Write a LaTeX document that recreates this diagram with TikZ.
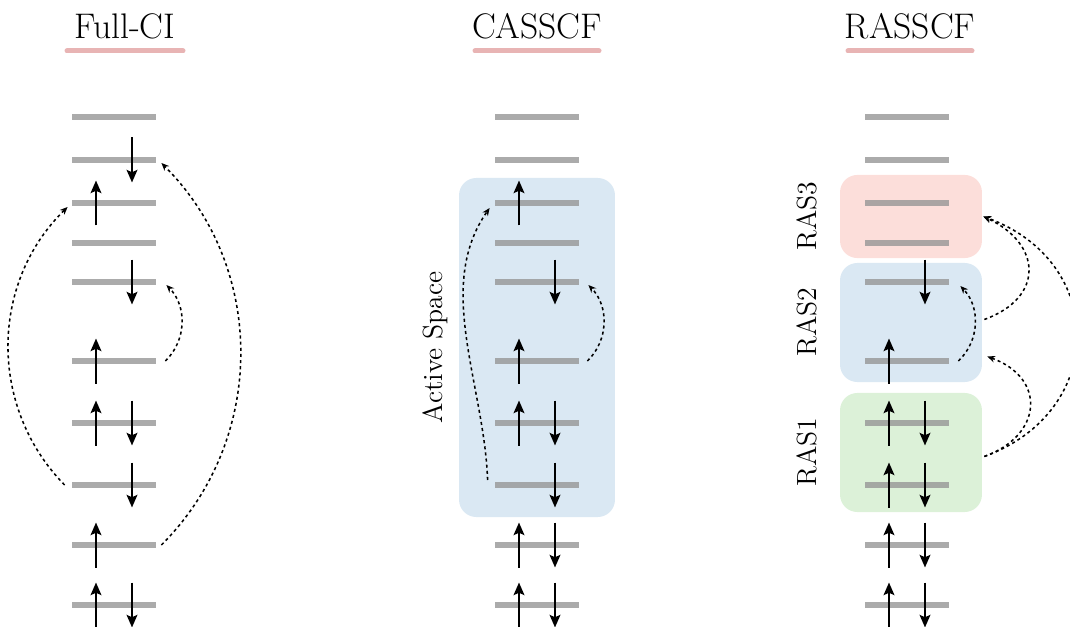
\documentclass[tikz,border=0pt]{standalone}
\usetikzlibrary{arrows.meta}

\definecolor{levgray}{RGB}{150,150,150}
\definecolor{barpink}{RGB}{232,180,180}
\definecolor{actblue}{RGB}{218,232,243}
\definecolor{raspink}{RGB}{252,222,218}
\definecolor{rasgreen}{RGB}{220,241,216}

\tikzset{
  level/.style={fill=levgray, fill opacity=0.8, inner sep=0pt, minimum width=43.7pt, minimum height=3.1pt},
  spin/.style={line width=1.5pt, -{Stealth[length=6.5pt,width=5.5pt,inset=1.2pt]}},
  jump/.style={line width=0.8pt, dash pattern=on 1.6pt off 1.6pt, -{Stealth[length=4pt,width=3.4pt]}},
  title/.style={font=\fontsize{18.5}{22}\selectfont, anchor=base},
  bar/.style={barpink, line width=2.6pt, line cap=round},
  space/.style={rounded corners=9pt, inner sep=0pt},
  spacelabel/.style={font=\Large, rotate=90, anchor=base},
}

\begin{document}
\begin{tikzpicture}[x=0.52pt, y=0.52pt]
\clip (0,0) rectangle (1070,626);

% titulos
\node[title] (tfull) at (125,587) {Full-CI};
\node[title] (tcas) at (537,587) {CASSCF};
\node[title] (tras) at (910,587) {RASSCF};
\draw[bar] ([shift={(-58,-12)}]tfull.base) -- ([shift={(58,-12)}]tfull.base);
\draw[bar] ([shift={(-62,-12)}]tcas.base) -- ([shift={(62,-12)}]tcas.base);
\draw[bar] ([shift={(-62,-12)}]tras.base) -- ([shift={(62,-12)}]tras.base);

% espacos ativos
\node[space, fill=actblue, minimum width=81.1pt, minimum height=176.3pt] (act) at (537,278.5) {};
\node[space, fill=raspink, minimum width=73.8pt, minimum height=43.2pt] (ras3) at (911,409.5) {};
\node[space, fill=actblue, minimum width=73.8pt, minimum height=61.9pt] (ras2) at (911,303.5) {};
\node[space, fill=rasgreen, minimum width=73.8pt, minimum height=61.9pt] (ras1) at (911,173.5) {};
\node[spacelabel] (lact) at ([xshift=-8.3pt]act.west) {Active Space};
\node[spacelabel] (lras3) at ([xshift=-12pt]ras3.west) {RAS3};
\node[spacelabel] (lras2) at ([xshift=-12pt]ras2.west) {RAS2};
\node[spacelabel] (lras1) at ([xshift=-12pt]ras1.west) {RAS1};

% niveis
\foreach \i/\y in {1/509,2/466,3/423,4/383,5/344,6/265,7/203,8/141,9/81,10/21} {
  \node[level] (f\i) at (114,\y) {};
  \node[level] (c\i) at (537,\y) {};
  \node[level] (r\i) at (907,\y) {};
}

% eletrons
\foreach \n in {f3,f6,f7,f9,f10,c3,c6,c7,c9,c10,r6,r7,r8,r9,r10}
  \draw[spin] ([shift={(-18,-22.5)}]\n.center) -- ++(0,45);
\foreach \n in {f2,f5,f7,f8,f10,c5,c7,c8,c9,c10,r5,r7,r8,r9,r10}
  \draw[spin] ([shift={(18,22.5)}]\n.center) -- ++(0,-45);

% excitacoes
\draw[jump] ([shift={(-7,0)}]f8.west) to[bend left=45] ([shift={(-4,-4)}]f3.west);
\draw[jump] ([shift={(5,0)}]f9.east) to[bend right=45] ([shift={(5,-3)}]f2.east);
\draw[jump] ([shift={(9,0)}]f6.east) to[bend right=45] ([shift={(10,-3)}]f5.east);

\draw[jump] ([shift={(8,0)}]c6.east) to[bend right=45] ([shift={(9,-3)}]c5.east);
\draw[jump] ([shift={(-7,5)}]c8.west) to[out=92, in=235, looseness=0.9] ([shift={(-5,-5)}]c3.west);

\draw[jump] ([shift={(9,0)}]r6.east) to[bend right=45] ([shift={(11,-4)}]r5.east);
\draw[jump] ([shift={(2,3)}]ras2.east) to[out=20, in=-25, looseness=1.6] ([shift={(1,0)}]ras3.east);
\draw[jump] ([shift={(2,-4)}]ras1.east) to[out=20, in=-20, looseness=1.6] ([shift={(5,-34)}]ras2.east);
\draw[jump] ([shift={(2,-4)}]ras1.east) to[out=20, in=-20, looseness=1.4] ([shift={(1,0)}]ras3.east);

\end{tikzpicture}
\end{document}
